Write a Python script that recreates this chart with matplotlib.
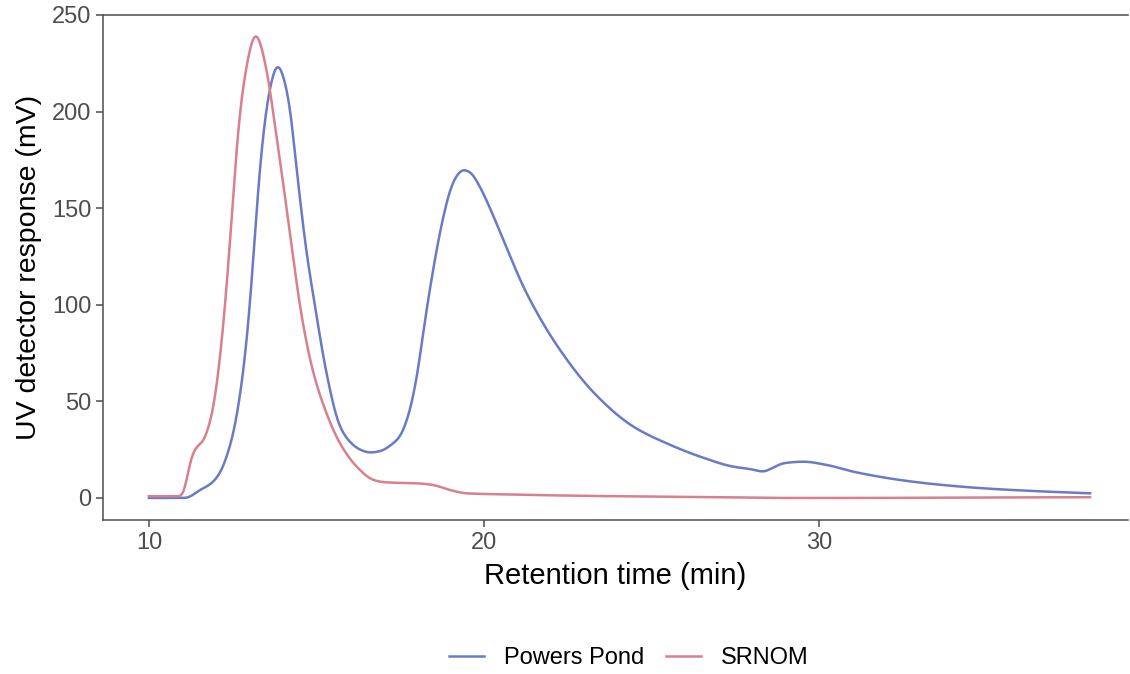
import matplotlib
matplotlib.use("Agg")
import matplotlib.pyplot as plt
import numpy as np

plt.rcParams['font.family'] = ['Liberation Sans', 'DejaVu Sans']

# retention time (min) and UV response (mV)
pp_time = [10.0, 11.1, 11.52, 11.87, 12.17, 12.32, 12.52, 12.81, 13.01, 13.14, 13.26,
           13.41, 13.56, 13.84, 14.16, 14.41, 14.68, 14.96, 15.3, 15.7, 16.0,
           16.3, 16.6, 16.9, 17.29, 17.49, 17.75, 17.99, 18.24, 18.49, 18.74, 18.99,
           19.15, 19.38, 19.6, 19.88, 20.28, 20.78, 21.27, 22.27, 23.36, 24.46, 25.45,
           26.45, 27.44, 28.0, 28.34, 28.6, 28.94, 29.53, 30.23, 31.02, 32.42, 33.41,
           34.9, 36.4, 38.09]
pp_resp = [0.0, 0.0, 4.1, 7.6, 14.5, 21.4, 33.5, 64.5, 99.0, 130.0, 160.0,
           188.0, 207.7, 224.5, 207.7, 170.0, 130.0, 99.0, 64.5, 36.9, 29.0,
           25.0, 23.5, 24.2, 28.3, 31.7, 43.0, 62.0, 92.0, 119.0, 142.0, 159.4,
           166.0, 170.0, 168.5, 161.0, 146.0, 125.0, 106.0, 76.6, 53.0, 36.9, 28.3,
           21.4, 16.2, 14.8, 13.6, 15.5, 18.0, 18.8, 17.1, 13.6, 9.3, 7.2,
           5.0, 3.6, 2.4]

sr_time = [10.0, 11.02, 11.15, 11.27, 11.42, 11.62, 11.72, 11.87, 12.07, 12.27, 12.41,
           12.53, 12.65, 12.82, 13.19, 13.51, 13.76, 14.03, 14.28, 14.51, 14.91, 15.3,
           15.7, 16.2, 16.7, 17.0, 17.5, 17.99, 18.49, 18.99, 19.48, 20.48,
           23.46, 26.5, 29.4, 31.0, 34.0, 38.09]
sr_resp = [0.9, 0.9, 12.0, 21.4, 26.6, 29.0, 33.5, 42.0, 64.5, 99.0, 130.0,
           160.0, 188.0, 214.0, 240.5, 222.0, 193.0, 160.0, 128.0, 99.0, 64.5, 43.8,
           28.3, 16.2, 9.3, 8.2, 7.8, 7.6, 6.7, 4.1, 2.4, 1.9,
           1.0, 0.5, 0.0, 0.0, 0.2, 0.4]

series_names = ["Powers Pond", "SRNOM"]
series_colors = ["#6a7bc6", "#d8808b"]


def smooth(t, v, step=0.01, sigma=0.08):
    # monotone cubic (PCHIP) through the read-off points, lightly blurred
    t = np.asarray(t, float)
    v = np.asarray(v, float)
    h = np.diff(t)
    d = np.diff(v) / h
    m = np.zeros_like(v)
    for i in range(1, len(v) - 1):
        if d[i - 1] * d[i] > 0:
            w1 = 2 * h[i] + h[i - 1]
            w2 = h[i] + 2 * h[i - 1]
            m[i] = (w1 + w2) / (w1 / d[i - 1] + w2 / d[i])
    m[0] = d[0]
    m[-1] = d[-1]
    tt = np.arange(t[0], t[-1] + step / 2, step)
    idx = np.clip(np.searchsorted(t, tt) - 1, 0, len(t) - 2)
    hh = h[idx]
    s = (tt - t[idx]) / hh
    h00 = 2 * s**3 - 3 * s**2 + 1
    h10 = s**3 - 2 * s**2 + s
    h01 = -2 * s**3 + 3 * s**2
    h11 = s**3 - s**2
    vv = h00 * v[idx] + h10 * hh * m[idx] + h01 * v[idx + 1] + h11 * hh * m[idx + 1]
    k = int(4 * sigma / step)
    x = np.arange(-k, k + 1) * step
    g = np.exp(-0.5 * (x / sigma) ** 2)
    g /= g.sum()
    padded = np.concatenate([np.full(k, vv[0]), vv, np.full(k, vv[-1])])
    vv = np.convolve(padded, g, mode="valid")
    return tt, vv


fig = plt.figure(figsize=(11.3, 6.74), dpi=100)
ax = fig.add_axes([103 / 1130, 154 / 674, 1025 / 1130, 505 / 674])

for (t, v), name, col in zip([(pp_time, pp_resp), (sr_time, sr_resp)], series_names, series_colors):
    tt, vv = smooth(t, v)
    ax.plot(tt, vv, color=col, lw=1.8, label=name)

ax.set_xlim(8.63, 39.22)
ax.set_ylim(-11.4, 250)
ax.set_xticks([10, 20, 30])
ax.set_yticks([0, 50, 100, 150, 200, 250])

axis_grey = "#4d4d4d"
for side in ["left", "bottom", "top"]:
    ax.spines[side].set_color(axis_grey)
    ax.spines[side].set_linewidth(1.1)
ax.spines["right"].set_visible(False)
ax.tick_params(colors=axis_grey, labelsize=17, length=5, width=1.1)
for lab in ax.get_xticklabels() + ax.get_yticklabels():
    lab.set_color(axis_grey)

ax.set_xlabel("Retention time (min)", fontsize=21, labelpad=6)
ax.set_ylabel("UV detector response (mV)", fontsize=20.5, labelpad=7)

fig.legend(loc="center", bbox_to_anchor=(629 / 1130, 16 / 674), ncol=2, frameon=False,
           fontsize=17, handlelength=1.45, columnspacing=0.95, handletextpad=0.85)

plt.savefig("out.png")
